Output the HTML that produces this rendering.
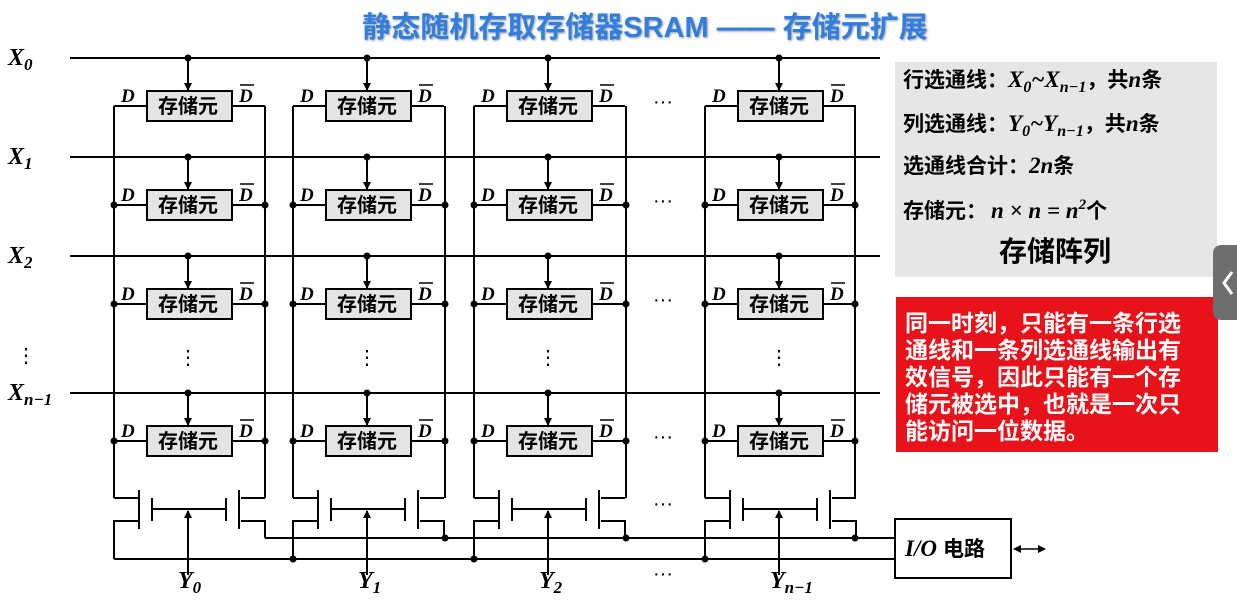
<!DOCTYPE html>
<html><head><meta charset="utf-8"><style>
body{margin:0;background:#fff;}
svg{display:block;}
.t{font-family:"Liberation Sans","Noto Sans CJK SC",sans-serif;font-weight:bold;}
.m{font-family:"Liberation Serif",serif;font-style:italic;font-weight:bold;}
</style></head><body>
<svg width="1237" height="606" viewBox="0 0 1237 606" xmlns="http://www.w3.org/2000/svg">
<defs>
<marker id="ah" markerWidth="8" markerHeight="10" refX="7" refY="5" orient="auto" markerUnits="userSpaceOnUse"><path d="M0,1 L8,5 L0,9 Z" fill="#000"/></marker>
<marker id="ahs" markerWidth="8" markerHeight="8" refX="7" refY="4" orient="auto-start-reverse" markerUnits="userSpaceOnUse"><path d="M0,0 L8,4 L0,8 Z" fill="#000"/></marker>
<g id="cell">
<line x1="0" y1="0" x2="33" y2="0" stroke="#000" stroke-width="2"/>
<line x1="118" y1="0" x2="151" y2="0" stroke="#000" stroke-width="2"/>
<rect x="33" y="-15" width="85" height="30" fill="#e4e4e4" stroke="#000" stroke-width="2"/>
<circle cx="74" cy="-48" r="3.5" fill="#000"/>
<line x1="74" y1="-48" x2="74" y2="-16" stroke="#000" stroke-width="2" marker-end="url(#ah)"/>
</g>
<g id="bot">
<g fill="none" stroke="#000" stroke-width="2">
<path d="M0,498 H24 M25,490 V529 M24,521 H0 V559"/>
<path d="M38,498 V521 M38,509 H112 M112,498 V521"/>
<path d="M151,498 H127 M125,490 V529 M127,521 H151 V538"/>
</g>
<line x1="74" y1="575" x2="74" y2="511" stroke="#000" stroke-width="2" marker-end="url(#ah)"/>
</g>
</defs>

<text x="645" y="37" text-anchor="middle" class="t" font-size="29" fill="#2f7ee0" style="text-shadow:1px 1px 2px #999">静态随机存取存储器SRAM —— 存储元扩展</text>

<g stroke="#000" stroke-width="2">
<line x1="70" y1="58" x2="880" y2="58"/>
<line x1="70" y1="157" x2="880" y2="157"/>
<line x1="70" y1="256" x2="880" y2="256"/>
<line x1="70" y1="393" x2="880" y2="393"/>
<line x1="114" y1="106" x2="114" y2="498"/><line x1="265" y1="106" x2="265" y2="498"/>
<line x1="293" y1="106" x2="293" y2="498"/><line x1="445" y1="106" x2="445" y2="498"/>
<line x1="474" y1="106" x2="474" y2="498"/><line x1="626" y1="106" x2="626" y2="498"/>
<line x1="705" y1="106" x2="705" y2="498"/><line x1="855" y1="106" x2="855" y2="498"/>
<line x1="265" y1="538" x2="895" y2="538"/>
<line x1="114" y1="559" x2="895" y2="559"/>
</g>

<g class="m" font-size="24">
<text x="8" y="65">X<tspan font-size="17" dy="5">0</tspan></text>
<text x="8" y="164">X<tspan font-size="17" dy="5">1</tspan></text>
<text x="8" y="263">X<tspan font-size="17" dy="5">2</tspan></text>
<text x="8" y="400">X<tspan font-size="17" dy="5">n−1</tspan></text>
<text x="178" y="588">Y<tspan font-size="17" dy="5">0</tspan></text>
<text x="358" y="588">Y<tspan font-size="17" dy="5">1</tspan></text>
<text x="539" y="588">Y<tspan font-size="17" dy="5">2</tspan></text>
<text x="770" y="588">Y<tspan font-size="17" dy="5">n−1</tspan></text>
</g>
<text x="16" y="362" font-size="20" font-family="Liberation Sans,sans-serif">⋮</text>

<g>
<use href="#cell" x="114" y="106"/><use href="#cell" x="114" y="205"/><use href="#cell" x="114" y="304"/><use href="#cell" x="114" y="441"/>
<use href="#cell" x="293" y="106"/><use href="#cell" x="293" y="205"/><use href="#cell" x="293" y="304"/><use href="#cell" x="293" y="441"/>
<use href="#cell" x="474" y="106"/><use href="#cell" x="474" y="205"/><use href="#cell" x="474" y="304"/><use href="#cell" x="474" y="441"/>
<use href="#cell" x="705" y="106"/><use href="#cell" x="705" y="205"/><use href="#cell" x="705" y="304"/><use href="#cell" x="705" y="441"/>
<use href="#bot" x="114"/><use href="#bot" x="293"/><use href="#bot" x="474"/><use href="#bot" x="705"/>
</g>
<g fill="#000">
<circle cx="114" cy="205" r="3.5"/><circle cx="265" cy="205" r="3.5"/><circle cx="114" cy="304" r="3.5"/><circle cx="265" cy="304" r="3.5"/><circle cx="114" cy="441" r="3.5"/><circle cx="265" cy="441" r="3.5"/>
<circle cx="293" cy="205" r="3.5"/><circle cx="445" cy="205" r="3.5"/><circle cx="293" cy="304" r="3.5"/><circle cx="445" cy="304" r="3.5"/><circle cx="293" cy="441" r="3.5"/><circle cx="445" cy="441" r="3.5"/>
<circle cx="474" cy="205" r="3.5"/><circle cx="626" cy="205" r="3.5"/><circle cx="474" cy="304" r="3.5"/><circle cx="626" cy="304" r="3.5"/><circle cx="474" cy="441" r="3.5"/><circle cx="626" cy="441" r="3.5"/>
<circle cx="705" cy="205" r="3.5"/><circle cx="855" cy="205" r="3.5"/><circle cx="705" cy="304" r="3.5"/><circle cx="855" cy="304" r="3.5"/><circle cx="705" cy="441" r="3.5"/><circle cx="855" cy="441" r="3.5"/>
<circle cx="293" cy="559" r="3.5"/><circle cx="474" cy="559" r="3.5"/><circle cx="705" cy="559" r="3.5"/>
<circle cx="445" cy="538" r="3.5"/><circle cx="626" cy="538" r="3.5"/><circle cx="855" cy="538" r="3.5"/>
</g>

<g class="t" font-size="20" text-anchor="middle">
<text x="188" y="113">存储元</text><text x="367" y="113">存储元</text><text x="548" y="113">存储元</text><text x="779" y="113">存储元</text>
<text x="188" y="212">存储元</text><text x="367" y="212">存储元</text><text x="548" y="212">存储元</text><text x="779" y="212">存储元</text>
<text x="188" y="311">存储元</text><text x="367" y="311">存储元</text><text x="548" y="311">存储元</text><text x="779" y="311">存储元</text>
<text x="188" y="448">存储元</text><text x="367" y="448">存储元</text><text x="548" y="448">存储元</text><text x="779" y="448">存储元</text>
</g>
<g class="m" font-size="19">
<text x="121" y="102">D</text><text x="300" y="102">D</text><text x="481" y="102">D</text><text x="712" y="102">D</text>
<text x="121" y="201">D</text><text x="300" y="201">D</text><text x="481" y="201">D</text><text x="712" y="201">D</text>
<text x="121" y="300">D</text><text x="300" y="300">D</text><text x="481" y="300">D</text><text x="712" y="300">D</text>
<text x="121" y="437">D</text><text x="300" y="437">D</text><text x="481" y="437">D</text><text x="712" y="437">D</text>
<text x="239" y="102">D</text><text x="418" y="102">D</text><text x="599" y="102">D</text><text x="830" y="102">D</text>
<text x="239" y="201">D</text><text x="418" y="201">D</text><text x="599" y="201">D</text><text x="830" y="201">D</text>
<text x="239" y="300">D</text><text x="418" y="300">D</text><text x="599" y="300">D</text><text x="830" y="300">D</text>
<text x="239" y="437">D</text><text x="418" y="437">D</text><text x="599" y="437">D</text><text x="830" y="437">D</text>
</g>
<g stroke="#000" stroke-width="1.5">
<line x1="240" y1="85" x2="254" y2="85"/><line x1="419" y1="85" x2="433" y2="85"/><line x1="600" y1="85" x2="614" y2="85"/><line x1="831" y1="85" x2="845" y2="85"/>
<line x1="240" y1="184" x2="254" y2="184"/><line x1="419" y1="184" x2="433" y2="184"/><line x1="600" y1="184" x2="614" y2="184"/><line x1="831" y1="184" x2="845" y2="184"/>
<line x1="240" y1="283" x2="254" y2="283"/><line x1="419" y1="283" x2="433" y2="283"/><line x1="600" y1="283" x2="614" y2="283"/><line x1="831" y1="283" x2="845" y2="283"/>
<line x1="240" y1="420" x2="254" y2="420"/><line x1="419" y1="420" x2="433" y2="420"/><line x1="600" y1="420" x2="614" y2="420"/><line x1="831" y1="420" x2="845" y2="420"/>
</g>

<g font-family="Liberation Sans,sans-serif" font-size="20" text-anchor="middle">
<text x="663" y="108">···</text><text x="663" y="207">···</text><text x="663" y="306">···</text><text x="663" y="443">···</text><text x="663" y="510">···</text><text x="663" y="580">···</text>
<text x="188" y="364">⋮</text><text x="367" y="364">⋮</text><text x="548" y="364">⋮</text><text x="779" y="364">⋮</text>
</g>

<rect x="895" y="519" width="116" height="59" fill="#fff" stroke="#000" stroke-width="2"/>
<text x="905" y="556" font-size="21"><tspan class="m" font-size="23">I/O</tspan><tspan class="t" dx="6">电路</tspan></text>
<line x1="1014" y1="549" x2="1045" y2="549" stroke="#000" stroke-width="1.5" marker-start="url(#ahs)" marker-end="url(#ahs)"/>

<rect x="895" y="62" width="322" height="215" fill="#e6e6e7"/>
<g class="t" font-size="21">
<text x="903" y="87">行选通线：<tspan class="m" font-size="23">X<tspan font-size="16" dy="5">0</tspan><tspan dy="-5">~X</tspan><tspan font-size="16" dy="5">n−1</tspan></tspan><tspan dy="-5">，共</tspan><tspan class="m" font-size="23">n</tspan>条</text>
<text x="903" y="131">列选通线：<tspan class="m" font-size="23">Y<tspan font-size="16" dy="5">0</tspan><tspan dy="-5">~Y</tspan><tspan font-size="16" dy="5">n−1</tspan></tspan><tspan dy="-5">，共</tspan><tspan class="m" font-size="23">n</tspan>条</text>
<text x="903" y="173">选通线合计：<tspan class="m" font-size="23">2n</tspan>条</text>
<text x="903" y="218">存储元：<tspan class="m" font-size="23" dx="4">n × n = n</tspan><tspan class="m" font-size="15" dy="-9">2</tspan><tspan dy="9">个</tspan></text>
<text x="1055" y="261" font-size="28" text-anchor="middle">存储阵列</text>
</g>

<rect x="896" y="297" width="322" height="155" fill="#e8121a"/>
<g class="t" font-size="23" fill="#fff">
<text x="905" y="331">同一时刻，只能有一条行选</text>
<text x="905" y="358">通线和一条列选通线输出有</text>
<text x="905" y="385">效信号，因此只能有一个存</text>
<text x="905" y="412">储元被选中，也就是一次只</text>
<text x="905" y="439">能访问一位数据。</text>
</g>

<path d="M1237,245 H1222 Q1213,245 1213,254 V311 Q1213,320 1222,320 H1237 Z" fill="#6e6e6e"/>
<path d="M1232,272 L1224,283 L1232,294" fill="none" stroke="#fff" stroke-width="3"/>
</svg>
</body></html>
